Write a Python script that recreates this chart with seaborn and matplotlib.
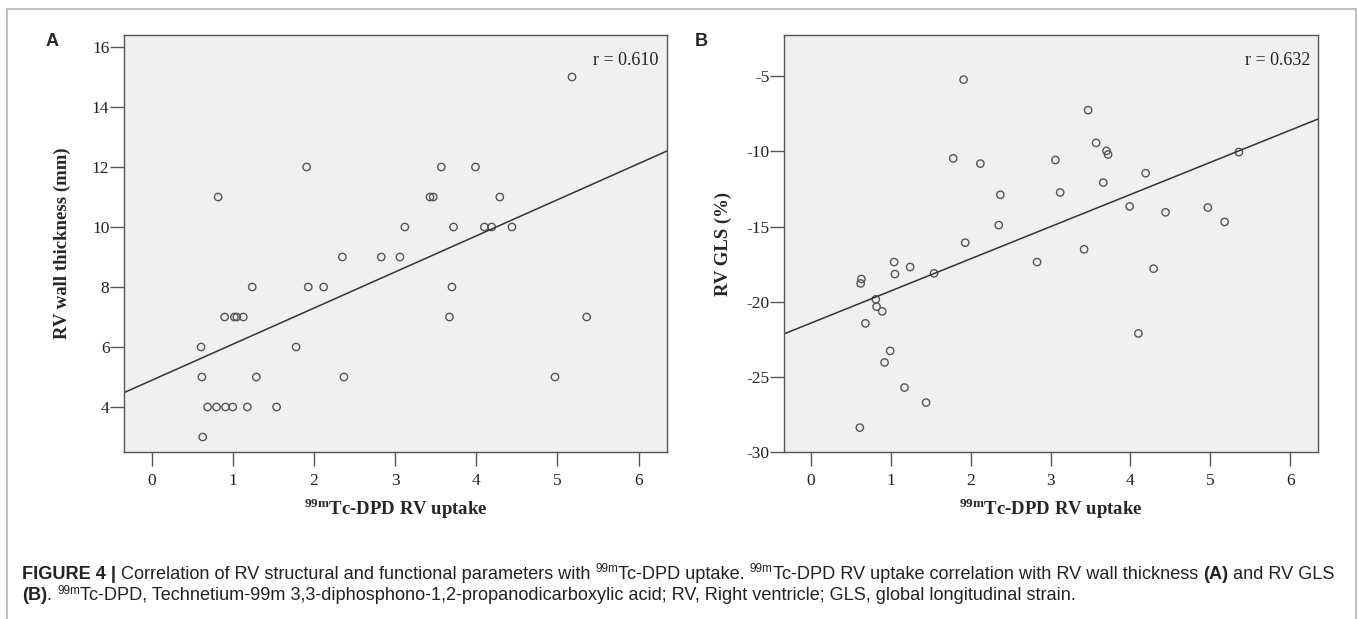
"""
Two-panel scatter with regression lines: 99mTc-DPD RV uptake against
RV wall thickness (A) and RV GLS (B), with figure caption underneath.
"""

import matplotlib.pyplot as plt
import seaborn as sns
from matplotlib.patches import Rectangle

# Panel A: uptake vs RV wall thickness (mm)
uptake_a = [5.18, 0.82, 1.91, 3.57, 3.99, 3.43, 3.47, 4.29,
            3.12, 3.72, 4.10, 4.19, 4.44,
            2.35, 2.83, 3.06,
            1.24, 1.93, 2.12, 3.70,
            0.90, 1.02, 1.05, 1.13, 3.67, 5.36,
            0.61, 1.78,
            0.62, 1.29, 2.37, 4.97,
            0.69, 0.80, 0.91, 1.00, 1.18, 1.54,
            0.63]
thickness = [15, 11, 12, 12, 12, 11, 11, 11,
             10, 10, 10, 10, 10,
             9, 9, 9,
             8, 8, 8, 8,
             7, 7, 7, 7, 7, 7,
             6, 6,
             5, 5, 5, 5,
             4, 4, 4, 4, 4, 4,
             3]

# Panel B: uptake vs RV GLS (%)
uptake_b = [1.91, 3.47, 1.78, 2.12, 3.06, 3.57, 3.70, 3.72, 5.36, 4.19,
            3.66, 2.37, 3.12, 3.99, 4.44, 4.97, 5.18, 2.35,
            1.93, 3.42, 2.83, 1.04, 1.24, 1.05, 1.54, 0.63, 0.62, 4.29,
            0.81, 0.82, 0.89, 0.68, 4.10, 0.99, 0.92, 1.17, 1.44, 0.61]
gls = [-5.22, -7.25, -10.46, -10.81, -10.57, -9.43, -9.96, -10.2, -10.04, -11.45,
       -12.07, -12.88, -12.73, -13.66, -14.05, -13.73, -14.69, -14.9,
       -16.07, -16.51, -17.36, -17.36, -17.69, -18.16, -18.11, -18.49, -18.78, -17.8,
       -19.84, -20.33, -20.64, -21.44, -22.11, -23.27, -24.04, -25.71, -26.71, -28.38]

r_values = ['r = 0.610', 'r = 0.632']
panel_letters = ['A', 'B']
y_labels = ['RV wall thickness (mm)', 'RV GLS (%)']
x_label = r'$^{\mathbf{99m}}$Tc-DPD RV uptake'

W, H = 1358, 619

sns.set_style('ticks', {'axes.facecolor': '#f0f0f0', 'axes.edgecolor': '#555555'})
plt.rcParams['font.family'] = ['Liberation Serif', 'DejaVu Serif']
plt.rcParams['axes.unicode_minus'] = False
plt.rcParams['mathtext.fontset'] = 'custom'
plt.rcParams['mathtext.rm'] = 'Liberation Serif'
plt.rcParams['mathtext.bf'] = 'Liberation Serif:bold'

fig = plt.figure(figsize=(W / 100, H / 100), dpi=100)


def px_axes(left, top, right, bottom):
    return fig.add_axes([left / W, 1 - bottom / H, (right - left) / W, (bottom - top) / H])


axA = px_axes(124, 35, 667, 452)
axB = px_axes(784, 35, 1318, 452)

axA.set_ylim(2.5, 16.4)
axB.set_ylim(-30, -2.25)

for ax, xs, ys, r, ylab in zip([axA, axB], [uptake_a, uptake_b], [thickness, gls],
                               r_values, y_labels):
    ax.set_xlim(-0.34, 6.35)
    sns.regplot(x=xs, y=ys, ax=ax, ci=None, truncate=False, marker='o',
                scatter_kws=dict(facecolors='none', color='#555555', s=28,
                                 linewidths=1.0, alpha=1),
                line_kws=dict(color='#333333', lw=1.1))
    ax.set_xlim(-0.34, 6.35)
    ax.set_xticks(range(0, 7))
    for sp in ax.spines.values():
        sp.set_visible(True)
        sp.set_linewidth(1.0)
        sp.set_color('#555555')
    ax.tick_params(axis='both', direction='out', length=10, width=1, color='#555555',
                   labelsize=12.5, labelcolor='#222222')
    ax.tick_params(axis='y', pad=0.5)
    ax.tick_params(axis='x', pad=5)
    ax.set_xlabel(x_label, fontsize=13.5, fontweight='bold', labelpad=5)
    ax.set_ylabel(ylab, fontsize=13.5, fontweight='bold')
    ax.yaxis.set_label_coords(-0.097, 0.5)
    ax.text(0.985, 0.94, r, transform=ax.transAxes, ha='right', va='center',
            fontsize=13, color='#222222')

axA.set_yticks(range(4, 17, 2))
axB.set_yticks(range(-30, -4, 5))

for letter, x_px in zip(panel_letters, [52, 701]):
    fig.text(x_px / W, 1 - 41 / H, letter, family='Liberation Sans', fontweight='bold',
             fontsize=13, ha='center', va='center')

# light frame around the figure, open at the bottom
fig.add_artist(Rectangle((7 / W, -0.1), (1356 - 7) / W, 1.1 - 9 / H, transform=fig.transFigure,
                         fill=False, edgecolor='#b5b5b5', lw=1.2))


def caption_line(pieces, x_px, base_px):
    """Chain caption pieces left to right on one baseline (pixels from top)."""
    y = H - base_px
    prev = None
    for text, style in pieces:
        size = 8.5 if style == 'sup' else 13.1
        dy = 6.5 if style == 'sup' else 0
        weight = 'bold' if style == 'bold' else 'normal'
        kw = dict(family='Liberation Sans', fontsize=size, fontweight=weight,
                  va='baseline', ha='left', color='#222222', annotation_clip=False)
        if prev is None:
            prev = axA.annotate(text, xy=(x_px, y + dy), xycoords='figure pixels', **kw)
        else:
            prev = axA.annotate(text, xy=(1, y + dy), xycoords=(prev, 'figure pixels'), **kw)


caption_line([('FIGURE 4 |', 'bold'),
              (' Correlation of RV structural and functional parameters with ', 'reg'),
              ('99m', 'sup'), ('Tc-DPD uptake. ', 'reg'), ('99m', 'sup'),
              ('Tc-DPD RV uptake correlation with RV wall thickness ', 'reg'),
              ('(A)', 'bold'), (' and RV GLS', 'reg')], 22, 579)
caption_line([('(B)', 'bold'), ('. ', 'reg'), ('99m', 'sup'),
              ('Tc-DPD, Technetium-99m 3,3-diphosphono-1,2-propanodicarboxylic acid; '
               'RV, Right ventricle; GLS, global longitudinal strain.', 'reg')], 22, 600)

fig.savefig('out.png', dpi=100)
